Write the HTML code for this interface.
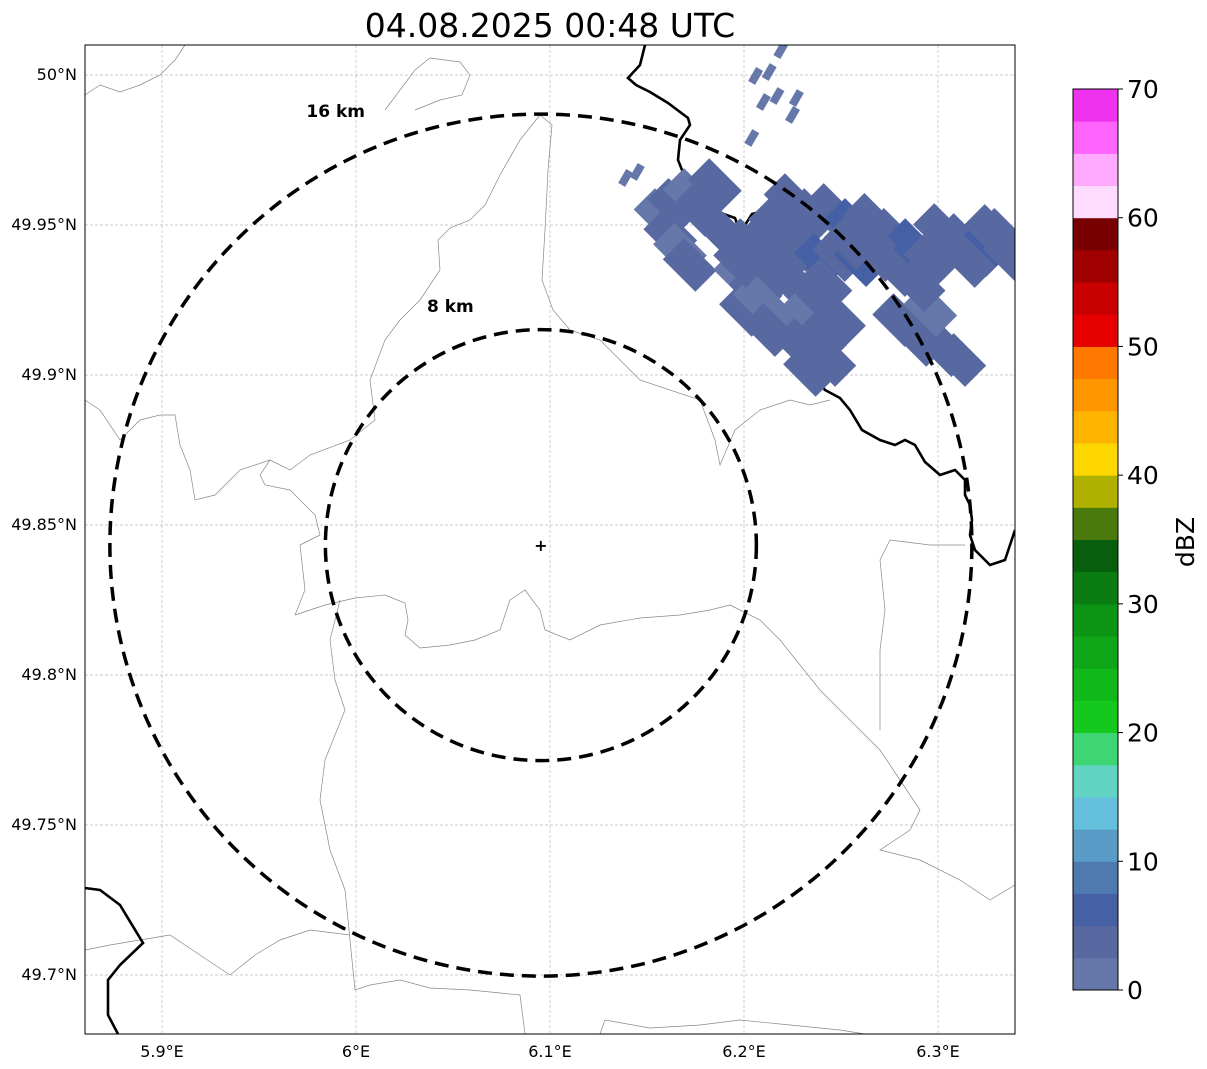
<!DOCTYPE html>
<html><head><meta charset="utf-8"><style>
html,body{margin:0;padding:0;background:#fff;}
svg{display:block;font-family:"DejaVu Sans","Liberation Sans",sans-serif;}
</style></head><body>
<svg id="chart" width="1207" height="1069" viewBox="0 0 1207 1069">
<text x="550" y="37" font-size="33" text-anchor="middle">04.08.2025 00:48 UTC</text>
<defs><clipPath id="mapclip"><rect x="85" y="45" width="930" height="989"/></clipPath></defs>
<g id="grid"></g>
<g clip-path="url(#mapclip)">
<g id="borders" fill="none"></g>
<g id="echoes"></g>
<g id="rings"></g>
</g>
<rect x="85" y="45" width="930" height="989" fill="none" stroke="#000" stroke-width="1"/>
<g id="axes"></g>
<g id="cbar"></g>
<text transform="translate(1194,542) rotate(-90)" font-size="25" text-anchor="middle">dBZ</text>
</svg>
<script>
const lonTicks=[5.9,6.0,6.1,6.2,6.3];
const lonLabels=["5.9°E","6°E","6.1°E","6.2°E","6.3°E"];
const latTicks=[50.0,49.95,49.9,49.85,49.8,49.75,49.7];
const latLabels=["50°N","49.95°N","49.9°N","49.85°N","49.8°N","49.75°N","49.7°N"];
const radarLon=6.0953, radarLat=49.8433;
const ringKm=[8,16];
const ringLabels=["8 km","16 km"];
const cbColors=["#6677aa","#5868a0","#4560a5","#4f7ab0","#5a9cc8","#64c0dc","#62d4c4","#3ed672","#14c81e","#11b81a","#0fa717","#0c9414","#0a7c12","#075f0e","#4b7a0c","#b0b000","#ffd700","#ffb400","#ff9600","#ff7800","#e60000","#c80000","#a00000","#780000","#ffdcff","#ffaaff","#ff64ff","#ee32ee"];
const cbTicks=[0,10,20,30,40,50,60,70];
const echoLon=[6.157,6.164,6.172,6.162,6.167,6.172,6.177,6.185,6.193,6.201,6.208,6.198,6.206,6.201,6.213,6.208,6.224,6.234,6.244,6.255,6.265,6.275,6.229,6.239,6.249,6.260,6.270,6.280,6.286,6.296,6.301,6.311,6.322,6.332,6.337,6.224,6.234,6.229,6.239,6.244,6.229,6.234,6.249,6.280,6.291,6.304,6.311,6.296,6.216,6.219,6.255,6.265,6.290,6.316,6.327,6.213,6.198,6.242];
const echoLat=[49.9533,49.9567,49.96,49.9467,49.9417,49.9367,49.955,49.9633,49.945,49.9433,49.9433,49.9333,49.9283,49.9217,49.9333,49.925,49.9583,49.9533,49.955,49.95,49.9517,49.9467,49.9433,49.9383,49.94,49.9383,49.94,49.935,49.9433,49.9383,49.9483,49.945,49.9417,49.9467,49.94,49.9317,49.925,49.9183,49.9117,49.905,49.91,49.9017,49.9183,49.9183,49.9117,49.9083,49.905,49.9217,49.95,49.938,49.944,49.945,49.93,49.938,49.948,49.915,49.938,49.93];
const echoDbz=[2,3,2,3,2,3,4,3,3,4,3,2,4,3,3,2,3,4,3,5,4,4,3,5,4,5,4,3,5,4,3,4,5,4,3,3,4,2,3,3,4,3,4,3,4,3,3,2,3,3,4,4,3,4,3,3,3,3];
const speckLon=[6.139,6.145,6.206,6.213,6.210,6.217,6.227,6.225,6.219,6.204];
const speckLat=[49.9657,49.9677,49.9997,50.001,49.991,49.993,49.9923,49.9867,50.0083,49.979];
const speckDbz=[2,2,2,2,2,2,2,2,2,2];

const NS="http://www.w3.org/2000/svg";
const X0=85,X1=1015,Y0=45,Y1=1034;
const xs=lon=>550+(lon-6.1)*1940;
const ys=lat=>75+(50-lat)*3000;
const cbY0=89,cbY1=990,cbX=1073,cbW=45;
const cs=v=>cbY1-(v/70)*(cbY1-cbY0);
const colorOf=v=>cbColors[Math.min(cbColors.length-1,Math.floor(v/2.5))];
function mk(tag,attrs,parent){const e=document.createElementNS(NS,tag);for(const k in attrs)e.setAttribute(k,attrs[k]);parent.appendChild(e);return e;}
const grid=document.getElementById('grid'),axes=document.getElementById('axes');
lonTicks.forEach((t,i)=>{const x=xs(t);
 const l=mk('line',{x1:x,x2:x,y1:Y0,y2:Y1,stroke:'#bbb','stroke-width':0.7,'stroke-dasharray':'3,2'},grid);
 
 
 const tx=mk('text',{x:x,y:1057,'font-size':16,'text-anchor':'middle'},axes);tx.textContent=lonLabels[i];
 
 
});
latTicks.forEach((t,i)=>{const y=ys(t);
 const l=mk('line',{x1:X0,x2:X1,y1:y,y2:y,stroke:'#bbb','stroke-width':0.7,'stroke-dasharray':'3,2'},grid);
 
 
 const tx=mk('text',{x:77,y:y+5,'font-size':16,'text-anchor':'end'},axes);tx.textContent=latLabels[i];
 
 
});
const borders=document.getElementById('borders');
const thin=[
 [[85,95],[100,85],[120,92],[140,85],[160,75],[175,60],[185,45]],
 [[415,110],[440,100],[462,95],[470,75],[460,62],[430,58],[415,70],[400,90],[385,110]],
 [[540,115],[552,125],[548,170],[545,230],[542,280],[553,310],[570,330]],
 [[540,115],[520,140],[500,175],[485,205],[470,220],[450,228],[438,240],[440,270],[420,300],[400,320],[385,340],[370,380],[375,420],[350,440],[310,455],[290,470],[270,460],[260,475],[265,485],[290,490],[300,500],[315,515],[320,535],[300,545],[305,590],[295,615]],
 [[295,615],[325,605],[355,598],[385,595],[405,603],[408,620],[405,635],[420,648],[450,645],[475,640],[500,630],[510,600],[525,590],[540,610],[545,630],[570,640],[600,625],[640,618],[680,615],[710,610],[730,605]],
 [[85,400],[100,410],[120,440],[140,420],[160,415],[175,415],[180,445],[190,470],[195,500],[215,495],[240,470],[270,460]],
 [[570,330],[600,340],[625,365],[640,380],[700,400],[715,440],[720,465],[735,430],[760,410],[790,400],[810,405],[830,400]],
 [[340,600],[330,640],[335,680],[345,710],[325,760],[320,800],[330,850],[345,890],[350,940],[355,990],[370,985],[400,980],[430,988],[470,990],[520,995],[525,1034]],
 [[730,605],[760,620],[780,640],[800,665],[820,690],[840,710],[860,730],[880,750],[900,780],[920,810],[910,830],[880,850],[920,860],[960,880],[990,900],[1015,885]],
 [[880,730],[880,650],[885,610],[880,560],[890,540],[930,545],[965,545]],
 [[85,950],[110,945],[140,940],[170,935],[200,955],[230,975],[255,955],[280,940],[310,930],[350,935]],
 [[600,1034],[605,1020],[650,1028],[700,1025],[740,1020],[790,1025],[840,1030],[865,1034]]
];
thin.forEach(p=>{const e=mk('polyline',{points:p.map(q=>q.join(',')).join(' '),stroke:'#888','stroke-width':0.7},borders);
 
 });
const thick=[
 [[645,45],[640,65],[628,78],[636,85],[650,92],[668,103],[688,118],[690,125],[680,140],[678,160],[688,185],[695,192],[705,190],[712,203],[718,212],[735,218],[740,232],[745,225],[752,214],[760,212],[766,220],[768,240],[775,248],[793,250],[790,258],[793,265],[790,285],[795,300],[792,320],[800,340],[808,345],[805,360],[815,378],[825,390],[840,398],[850,410],[862,430],[880,440],[895,445],[905,440],[915,445],[925,462],[940,475],[955,470],[965,480],[965,495],[970,505],[972,520],[970,535],[975,550],[990,565],[1005,560],[1015,530]],
 [[85,888],[100,890],[120,905],[143,943],[120,965],[108,980],[108,1015],[118,1034]]
];
thick.forEach(p=>{const e=mk('polyline',{points:p.map(q=>q.join(',')).join(' '),stroke:'#000','stroke-width':2.6},borders);
 
 });
const echoes=document.getElementById('echoes');
echoLon.forEach((lo,i)=>{const x=xs(lo),y=ys(echoLat[i]);
 const r=mk('rect',{x:x-23,y:y-15,width:46,height:30,fill:colorOf(echoDbz[i]),transform:`rotate(45 ${x} ${y})`},echoes);
 
 });
speckLon.forEach((lo,i)=>{const x=xs(lo),y=ys(speckLat[i]);
 const r=mk('rect',{x:x-4,y:y-8,width:8,height:16,fill:colorOf(speckDbz[i]),transform:`rotate(30 ${x} ${y})`},echoes);
 
 });
const rings=document.getElementById('rings');
const cx=xs(radarLon),cy=ys(radarLat);
const pxPerKm=431/16;
const labelDx=[-0.42,-0.476], labelDy=[-1.11,-1.007];
ringKm.forEach((k,i)=>{
 const r=k*pxPerKm;
 const c=mk('circle',{cx:cx,cy:cy,r:r,fill:'none',stroke:'#000','stroke-width':3.5,'stroke-dasharray':'14,8'},rings);
 
 
 const t=mk('text',{x:cx+r*labelDx[i],y:cy+r*labelDy[i]+6,'font-size':17,'font-weight':'bold','text-anchor':'middle'},rings);
 t.textContent=ringLabels[i];
 
 
});
const m=mk('text',{x:cx,y:cy+6,'font-size':16,'font-weight':'bold','text-anchor':'middle'},rings);m.textContent='+';


const cbar=document.getElementById('cbar');
cbColors.forEach((c,i)=>{const ya=cs((i+1)*2.5),yb=cs(i*2.5);
 const r=mk('rect',{x:cbX,y:ya,width:cbW,height:yb-ya+0.5,fill:c},cbar);
 
 });
mk('rect',{x:cbX,y:cbY0,width:cbW,height:cbY1-cbY0,fill:'none',stroke:'#000','stroke-width':1},cbar);
cbTicks.forEach(t=>{const y=cs(t);
 mk('line',{x1:cbX+cbW,x2:cbX+cbW+5,y1:y,y2:y,stroke:'#000'},cbar);
 const tx=mk('text',{x:cbX+cbW+9,y:y+9,'font-size':25},cbar);tx.textContent=t;
 
 });
</script>
</body></html>
